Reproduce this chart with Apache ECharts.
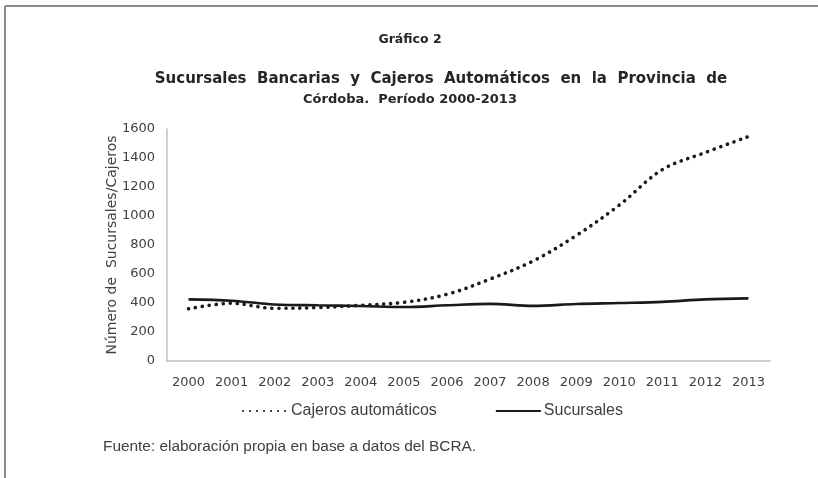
<!DOCTYPE html>
<html><head><meta charset="utf-8">
<script src="https://cdn.jsdelivr.net/npm/echarts@6/dist/echarts.min.js"></script>
<style>html,body{margin:0;padding:0;background:#fff}#c{width:818px;height:478px}</style>
</head><body><div id="c"></div>
<script>
const years = ['2000','2001','2002','2003','2004','2005','2006','2007','2008','2009','2010','2011','2012','2013'];
const cajeros = [360, 398, 363, 368, 384, 405, 460, 565, 690, 865, 1075, 1320, 1438, 1548];
const sucursales = [425, 416, 390, 384, 379, 372, 384, 394, 380, 393, 400, 408, 425, 432];
const yMin = 0, yMax = 1600, yStep = 200;
const seriesNames = ['Cajeros automáticos', 'Sucursales'];
const titleMain = 'Gráfico 2';
const titleLine1 = 'Sucursales  Bancarias  y  Cajeros  Automáticos  en  la  Provincia  de';
const titleLine2 = 'Córdoba.  Período 2000-2013';
const yName = 'Número de  Sucursales/Cajeros';
const source = 'Fuente: elaboración propia en base a datos del BCRA.';

const chart = echarts.init(document.getElementById('c'), null, {renderer: 'canvas'});
const tickFont = 'DejaVu Sans';
const txtFont = 'Liberation Sans';
const titleFont = 'DejaVu Sans';
chart.setOption({
  backgroundColor: '#fff',
  animation: false,
  legend: {
    left: 237, top: 398, itemGap: 58, itemWidth: 45, itemHeight: 12,
    itemStyle: {opacity: 0, color: 'rgba(0,0,0,0)', borderWidth: 0},
    textStyle: {fontFamily: txtFont, fontSize: 16, color: '#404040', padding: [0,0,0,-2]},
    data: seriesNames
  },
  grid: {left: 167, right: 48, top: 129, bottom: 117},
  xAxis: {
    type: 'category', data: years, boundaryGap: true,
    axisLine: {lineStyle: {color: '#bfbfbf', width: 1.5}},
    axisTick: {show: false},
    axisLabel: {fontFamily: tickFont, fontSize: 13, color: '#404040', margin: 15}
  },
  yAxis: {
    type: 'value', min: yMin, max: yMax, interval: yStep,
    name: yName, nameLocation: 'middle', nameGap: 48, nameRotate: 90, nameMoveOverlap: false,
    nameTextStyle: {fontFamily: tickFont, fontSize: 14, color: '#404040'},
    axisLine: {show: true, lineStyle: {color: '#bfbfbf', width: 1.5}},
    axisTick: {show: false},
    splitLine: {show: false},
    axisLabel: {fontFamily: tickFont, fontSize: 13, color: '#404040', margin: 12, formatter: v => String(v)}
  },
  series: [
    {name: seriesNames[0], type: 'line', data: cajeros, smooth: 0.35, symbol: 'none',
     lineStyle: {color: '#1a1a1a', width: 3.6, type: [0.1, 6.9], cap: 'round'}, itemStyle: {color: '#1a1a1a'}},
    {name: seriesNames[1], type: 'line', data: sucursales, smooth: 0.35, symbol: 'none',
     lineStyle: {color: '#1a1a1a', width: 2.6}, itemStyle: {color: '#1a1a1a'}}
  ],
  graphic: [
    {type: 'line', shape: {x1: 5, y1: 6, x2: 818, y2: 6}, style: {stroke: '#8a8a8a', lineWidth: 2}},
    {type: 'line', shape: {x1: 5, y1: 6, x2: 5, y2: 478}, style: {stroke: '#8a8a8a', lineWidth: 2}},
    {type: 'text', x: 410, y: 40, style: {text: titleMain, align: 'center', verticalAlign: 'middle', fontFamily: titleFont, fontWeight: 'bold', fontSize: 12.5, fill: '#262626'}},
    {type: 'text', x: 441, y: 79, style: {text: titleLine1, align: 'center', verticalAlign: 'middle', fontFamily: titleFont, fontWeight: 'bold', fontSize: 15, fill: '#262626'}},
    {type: 'text', x: 410, y: 100, style: {text: titleLine2, align: 'center', verticalAlign: 'middle', fontFamily: titleFont, fontWeight: 'bold', fontSize: 13, fill: '#262626'}},
    {type: 'text', x: 103, y: 447, style: {text: source, verticalAlign: 'middle', fontFamily: txtFont, fontSize: 15.4, fill: '#404040'}}
  ]
});
</script></body></html>
